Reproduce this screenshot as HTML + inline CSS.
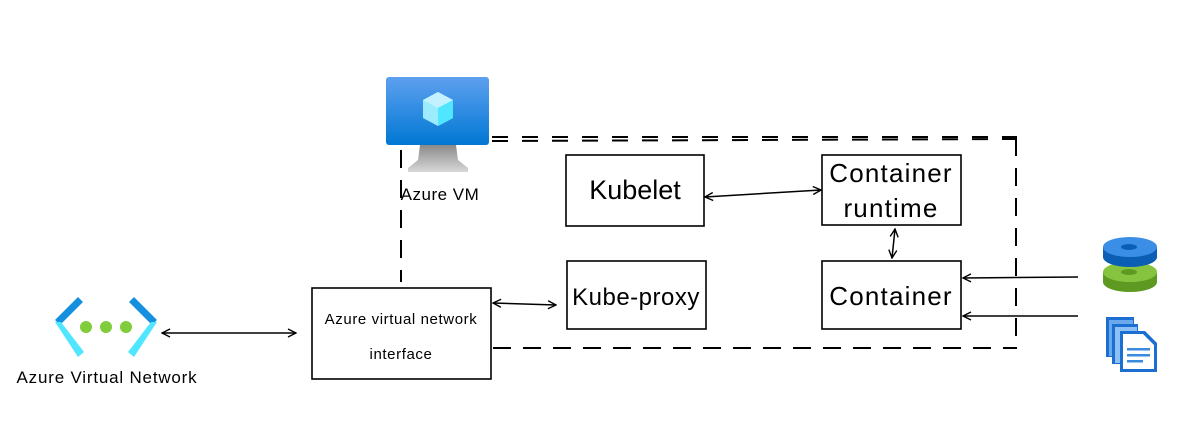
<!DOCTYPE html>
<html><head><meta charset="utf-8"><style>
html,body{margin:0;padding:0;background:#fff;}
svg{display:block;}
text{font-family:"Liberation Sans",sans-serif;fill:#000;}
</style></head><body>
<svg width="1188" height="421" viewBox="0 0 1188 421" xmlns="http://www.w3.org/2000/svg">
<defs>
<linearGradient id="scr" x1="0" y1="0" x2="0" y2="1"><stop offset="0" stop-color="#5ea0ef"/><stop offset="1" stop-color="#0078d4"/></linearGradient>
<linearGradient id="std" x1="0" y1="0" x2="0" y2="1"><stop offset="0" stop-color="#8a8a8a"/><stop offset="1" stop-color="#d8d8d8"/></linearGradient>
<marker id="ah" viewBox="0 0 10 10" refX="9" refY="5" markerWidth="10" markerHeight="10" orient="auto-start-reverse" markerUnits="userSpaceOnUse"><path d="M1,1 L9,5 L1,9" fill="none" stroke="#000" stroke-width="1.4"/></marker>
</defs>
<!-- dashed boundary -->
<g stroke="#000" stroke-width="2" fill="none">
<path d="M492,137 L1017,137" stroke-dasharray="16,14"/>
<path d="M492,141 L1017,139" stroke-dasharray="16,14"/>
<path d="M1016,138 L1016,340" stroke-dasharray="18,12"/>
<path d="M493,348 L1017,348" stroke-dasharray="18,12"/>
<path d="M401,150 L401,282" stroke-dasharray="18,12"/>
</g>
<!-- VM icon -->
<rect x="386" y="77" width="103" height="68" rx="3" fill="url(#scr)"/>
<path d="M420,145 L456,145 L458,160 L468,168 L468,172 L408,172 L408,168 L418,160 Z" fill="url(#std)"/>
<polygon points="438,92 453,100 453,118 438,126 423,118 423,100" fill="#9cebff"/>
<polygon points="438,92 453,100 438,108 423,100" fill="#c3f1ff"/>
<polygon points="438,108 453,100 453,118 438,126" fill="#50e6ff"/>
<text x="440" y="200" font-size="17" letter-spacing="0.5" text-anchor="middle">Azure VM</text>
<!-- boxes -->
<g fill="#fff" stroke="#000" stroke-width="1.6">
<rect x="566" y="155" width="138" height="71"/>
<rect x="822" y="155" width="139" height="70"/>
<rect x="567" y="261" width="139" height="68"/>
<rect x="822" y="261" width="139" height="68"/>
<rect x="312" y="288" width="179" height="91"/>
</g>
<text x="635" y="199" font-size="27" text-anchor="middle">Kubelet</text>
<text x="891" y="182" font-size="26" letter-spacing="1.2" text-anchor="middle">Container</text>
<text x="891" y="217" font-size="26" letter-spacing="1.2" text-anchor="middle">runtime</text>
<text x="636" y="305" font-size="24" letter-spacing="0.5" text-anchor="middle">Kube-proxy</text>
<text x="891" y="305" font-size="26" letter-spacing="1.2" text-anchor="middle">Container</text>
<text x="401" y="324" font-size="15" letter-spacing="0.6" text-anchor="middle">Azure virtual network</text>
<text x="401" y="359" font-size="15" letter-spacing="0.6" text-anchor="middle">interface</text>
<!-- VNet icon -->
<path d="M78,297 L55,320 L60,325 L83,302 Z" fill="#1490df"/>
<path d="M55,322 L78,357 L84,352 L61,322 Z" fill="#50e6ff"/>
<path d="M134,297 L157,320 L152,325 L129,302 Z" fill="#1490df"/>
<path d="M157,322 L134,357 L128,352 L151,322 Z" fill="#50e6ff"/>
<circle cx="86" cy="327" r="6" fill="#7fcd3a"/><circle cx="106" cy="327" r="6" fill="#7fcd3a"/><circle cx="126" cy="327" r="6" fill="#7fcd3a"/>
<text x="107" y="383" font-size="17" letter-spacing="0.8" text-anchor="middle">Azure Virtual Network</text>
<!-- arrows -->
<g stroke="#000" stroke-width="1.5" fill="none" marker-start="url(#ah)" marker-end="url(#ah)">
<path d="M162,333 L296,333"/>
<path d="M493,303 L556,305"/>
<path d="M705,197 L821,190"/>
<path d="M895,229 L892,258"/>
</g>
<g stroke="#000" stroke-width="1.5" fill="none" marker-end="url(#ah)">
<path d="M1078,277 L963,278"/>
<path d="M1078,316 L963,316"/>
</g>
<!-- storage icon -->
<ellipse cx="1130" cy="282" rx="27" ry="10" fill="#5e9a22"/>
<rect x="1103" y="272" width="54" height="10" fill="#5e9a22"/>
<ellipse cx="1130" cy="272" rx="27" ry="10" fill="#86c440"/>
<ellipse cx="1129" cy="272" rx="8" ry="3" fill="#5e9a22"/>
<ellipse cx="1130" cy="257" rx="27" ry="10" fill="#0a5fb4"/>
<rect x="1103" y="247" width="54" height="10" fill="#0a5fb4"/>
<ellipse cx="1130" cy="247" rx="27" ry="10" fill="#3b8ee6"/>
<ellipse cx="1129" cy="247" rx="8" ry="3" fill="#0a5fb4"/>
<!-- doc icon -->
<rect x="1106" y="317" width="28" height="40" fill="#1b6fd0"/>
<rect x="1109" y="320" width="24" height="36" fill="#6aa9ee"/>
<rect x="1112" y="324" width="26" height="40" fill="#1b6fd0"/>
<rect x="1115" y="327" width="22" height="36" fill="#8fc0f5"/>
<path d="M1120,331 L1145,331 L1157,343 L1157,372 L1120,372 Z" fill="#1b6fd0"/>
<path d="M1123,334 L1143,334 L1154,345 L1154,369 L1123,369 Z" fill="#fff"/>
<rect x="1127" y="348" width="23" height="2.5" fill="#3a8ae0"/>
<rect x="1127" y="354" width="23" height="2.5" fill="#3a8ae0"/>
<rect x="1127" y="360" width="16" height="2.5" fill="#3a8ae0"/>
</svg>
</body></html>
